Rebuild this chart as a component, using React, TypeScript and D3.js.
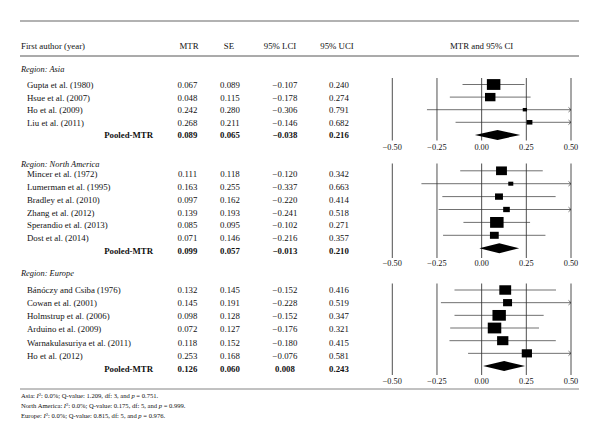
import React from "react";
import * as d3 from "d3";

// ---------- DATA ----------
const regionNames = ["Asia", "North America", "Europe"];

const asiaStudies = ["Gupta et al. (1980)", "Hsue et al. (2007)", "Ho et al. (2009)", "Liu et al. (2011)"];
const asiaMTR = [0.067, 0.048, 0.242, 0.268];
const asiaSE = [0.089, 0.115, 0.28, 0.211];
const asiaLCI = [-0.107, -0.178, -0.306, -0.146];
const asiaUCI = [0.24, 0.274, 0.791, 0.682];

const naStudies = [
  "Mincer et al. (1972)",
  "Lumerman et al. (1995)",
  "Bradley et al. (2010)",
  "Zhang et al. (2012)",
  "Sperandio et al. (2013)",
  "Dost et al. (2014)",
];
const naMTR = [0.111, 0.163, 0.097, 0.139, 0.085, 0.071];
const naSE = [0.118, 0.255, 0.162, 0.193, 0.095, 0.146];
const naLCI = [-0.12, -0.337, -0.22, -0.241, -0.102, -0.216];
const naUCI = [0.342, 0.663, 0.414, 0.518, 0.271, 0.357];

const euStudies = [
  "Bánóczy and Csiba (1976)",
  "Cowan et al. (2001)",
  "Holmstrup et al. (2006)",
  "Arduino et al. (2009)",
  "Warnakulasuriya et al. (2011)",
  "Ho et al. (2012)",
];
const euMTR = [0.132, 0.145, 0.098, 0.072, 0.118, 0.253];
const euSE = [0.145, 0.191, 0.128, 0.127, 0.152, 0.168];
const euLCI = [-0.152, -0.228, -0.152, -0.176, -0.18, -0.076];
const euUCI = [0.416, 0.519, 0.347, 0.321, 0.415, 0.581];

const pooledMTR = [0.089, 0.099, 0.126];
const pooledSE = [0.065, 0.057, 0.06];
const pooledLCI = [-0.038, -0.013, 0.008];
const pooledUCI = [0.216, 0.21, 0.243];

const hetI2 = ["0.0%", "0.0%", "0.0%"];
const hetQ = ["1.209", "0.175", "0.815"];
const hetDf = [3, 5, 5];
const hetP = ["0.751", "0.999", "0.976"];

const axisTicks = [-0.5, -0.25, 0, 0.25, 0.5];
const headers = ["First author (year)", "MTR", "SE", "95% LCI", "95% UCI", "MTR and 95% CI"];

// ---------- LAYOUT ----------
const W = 600;
const H = 442;
const FONT = "'Liberation Serif', 'Times New Roman', serif";

const x = d3.scaleLinear().domain([-0.5, 0.5]).range([392.3, 571]);
const fmt = (v: number) => d3.format(".3f")(v).replace("-", "\u2212");
const fmtTick = (v: number) => d3.format(".2f")(v).replace("-", "\u2212");

const panels = [
  { studies: asiaStudies, mtr: asiaMTR, se: asiaSE, lci: asiaLCI, uci: asiaUCI,
    regionY: 69, textY: 85, textStep: 12.5, plotY: 84.5, plotStep: 12.6, lineTop: 78, lineBot: 140.5, tickY: 147 },
  { studies: naStudies, mtr: naMTR, se: naSE, lci: naLCI, uci: naUCI,
    regionY: 164, textY: 174.3, textStep: 12.75, plotY: 170.8, plotStep: 12.9, lineTop: 163.5, lineBot: 258, tickY: 263.5 },
  { studies: euStudies, mtr: euMTR, se: euSE, lci: euLCI, uci: euUCI,
    regionY: 273.3, textY: 289.5, textStep: 13.25, plotY: 290, plotStep: 12.67, lineTop: 283.5, lineBot: 375, tickY: 381 },
];

const colMTR = 187.5;
const colSE = 230;
const colLCI = 285;
const colUCI = 339;

const Panel = ({ p, idx }: { p: any; idx: number }) => {
  const minSE = d3.min(p.se as number[]) as number;
  const n = p.studies.length;
  const pooledTextY = p.textY + n * p.textStep;
  const pooledPlotY = p.plotY + n * p.plotStep;
  return (
    <g>
      <text x={21} y={p.regionY} dy="0.35em" fontStyle="italic" fontSize={8.4}>
        Region: {regionNames[idx]}
      </text>
      {p.studies.map((s: string, i: number) => {
        const ty = p.textY + i * p.textStep;
        return (
          <g key={s}>
            <text x={27} y={ty} dy="0.35em">{s}</text>
            <text x={colMTR} y={ty} dy="0.35em" textAnchor="middle">{fmt(p.mtr[i])}</text>
            <text x={colSE} y={ty} dy="0.35em" textAnchor="middle">{fmt(p.se[i])}</text>
            <text x={colLCI} y={ty} dy="0.35em" textAnchor="middle">{fmt(p.lci[i])}</text>
            <text x={colUCI} y={ty} dy="0.35em" textAnchor="middle">{fmt(p.uci[i])}</text>
          </g>
        );
      })}
      <g fontWeight="bold">
        <text x={153} y={pooledTextY} dy="0.35em" textAnchor="end">Pooled-MTR</text>
        <text x={colMTR} y={pooledTextY} dy="0.35em" textAnchor="middle">{fmt(pooledMTR[idx])}</text>
        <text x={colSE} y={pooledTextY} dy="0.35em" textAnchor="middle">{fmt(pooledSE[idx])}</text>
        <text x={colLCI} y={pooledTextY} dy="0.35em" textAnchor="middle">{fmt(pooledLCI[idx])}</text>
        <text x={colUCI} y={pooledTextY} dy="0.35em" textAnchor="middle">{fmt(pooledUCI[idx])}</text>
      </g>
      {/* vertical reference lines */}
      {axisTicks.map((t) => (
        <line key={t} x1={x(t)} x2={x(t)} y1={p.lineTop} y2={p.lineBot} stroke="#222" strokeWidth={0.8} />
      ))}
      {axisTicks.map((t) => (
        <text key={"t" + t} x={x(t)} y={p.tickY} dy="0.35em" textAnchor="middle" fontSize={8.3}>
          {fmtTick(t)}
        </text>
      ))}
      {/* study CIs and squares */}
      {p.studies.map((s: string, i: number) => {
        const py = p.plotY + i * p.plotStep;
        const lo = Math.max(-0.5, p.lci[i]);
        const hi = Math.min(0.5, p.uci[i]);
        const w = 13.5 * (minSE / p.se[i]);
        const h = w * 0.8;
        const xm = x(p.mtr[i]);
        return (
          <g key={"p" + s}>
            <line x1={x(lo)} x2={x(hi)} y1={py} y2={py} stroke="#333" strokeWidth={0.7} />
            {p.uci[i] > 0.5 && (
              <polyline
                points={`${x(0.5) - 2.5},${py - 2.3} ${x(0.5)},${py} ${x(0.5) - 2.5},${py + 2.3}`}
                fill="none"
                stroke="#333"
                strokeWidth={0.7}
              />
            )}
            {p.lci[i] < -0.5 && (
              <polyline
                points={`${x(-0.5) + 2.5},${py - 2.3} ${x(-0.5)},${py} ${x(-0.5) + 2.5},${py + 2.3}`}
                fill="none"
                stroke="#333"
                strokeWidth={0.7}
              />
            )}
            <rect x={xm - w / 2} y={py - h / 2} width={w} height={h} fill="#000" />
          </g>
        );
      })}
      <polygon
        points={[
          [x(pooledLCI[idx]), pooledPlotY],
          [x(pooledMTR[idx]), pooledPlotY - 5],
          [x(pooledUCI[idx]), pooledPlotY],
          [x(pooledMTR[idx]), pooledPlotY + 5],
        ]
          .map((d) => d.join(","))
          .join(" ")}
        fill="#000"
      />
    </g>
  );
};

export default function App() {
  const footY = [395.7, 405.7, 415.7];
  return (
    <svg
      width={W}
      height={H}
      viewBox={`0 0 ${W} ${H}`}
      style={{ position: "absolute", left: 0, top: 0, background: "#fff" }}
      fontFamily={FONT}
      fontSize={8.8}
      fill="#111"
    >
      <rect width={W} height={H} fill="#fff" />
      {/* rules */}
      <line x1={20} x2={579} y1={21} y2={21} stroke="#999" strokeWidth={1.4} />
      <line x1={20} x2={579} y1={56} y2={56} stroke="#444" strokeWidth={0.9} />
      <line x1={20} x2={579} y1={389} y2={389} stroke="#777" strokeWidth={0.9} />
      {/* headers */}
      <text x={21} y={46} dy="0.35em">{headers[0]}</text>
      <text x={189} y={46} dy="0.35em" textAnchor="middle">{headers[1]}</text>
      <text x={229} y={46} dy="0.35em" textAnchor="middle">{headers[2]}</text>
      <text x={280} y={46} dy="0.35em" textAnchor="middle">{headers[3]}</text>
      <text x={337} y={46} dy="0.35em" textAnchor="middle">{headers[4]}</text>
      <text x={x(0)} y={46} dy="0.35em" textAnchor="middle">{headers[5]}</text>
      {panels.map((p, i) => (
        <Panel key={i} p={p} idx={i} />
      ))}
      {/* footnotes */}
      {regionNames.map((r, i) => (
        <text key={r} x={21} y={footY[i]} dy="0.35em" fontSize={6.6}>
          {r}: <tspan fontStyle="italic">I</tspan>
          <tspan dy={-2.2} fontSize={4.6}>2</tspan>
          <tspan dy={2.2}>: {hetI2[i]}; Q-value: {hetQ[i]}, df: {hetDf[i]}, and </tspan>
          <tspan fontStyle="italic">p</tspan> = {hetP[i]}.
        </text>
      ))}
    </svg>
  );
}
